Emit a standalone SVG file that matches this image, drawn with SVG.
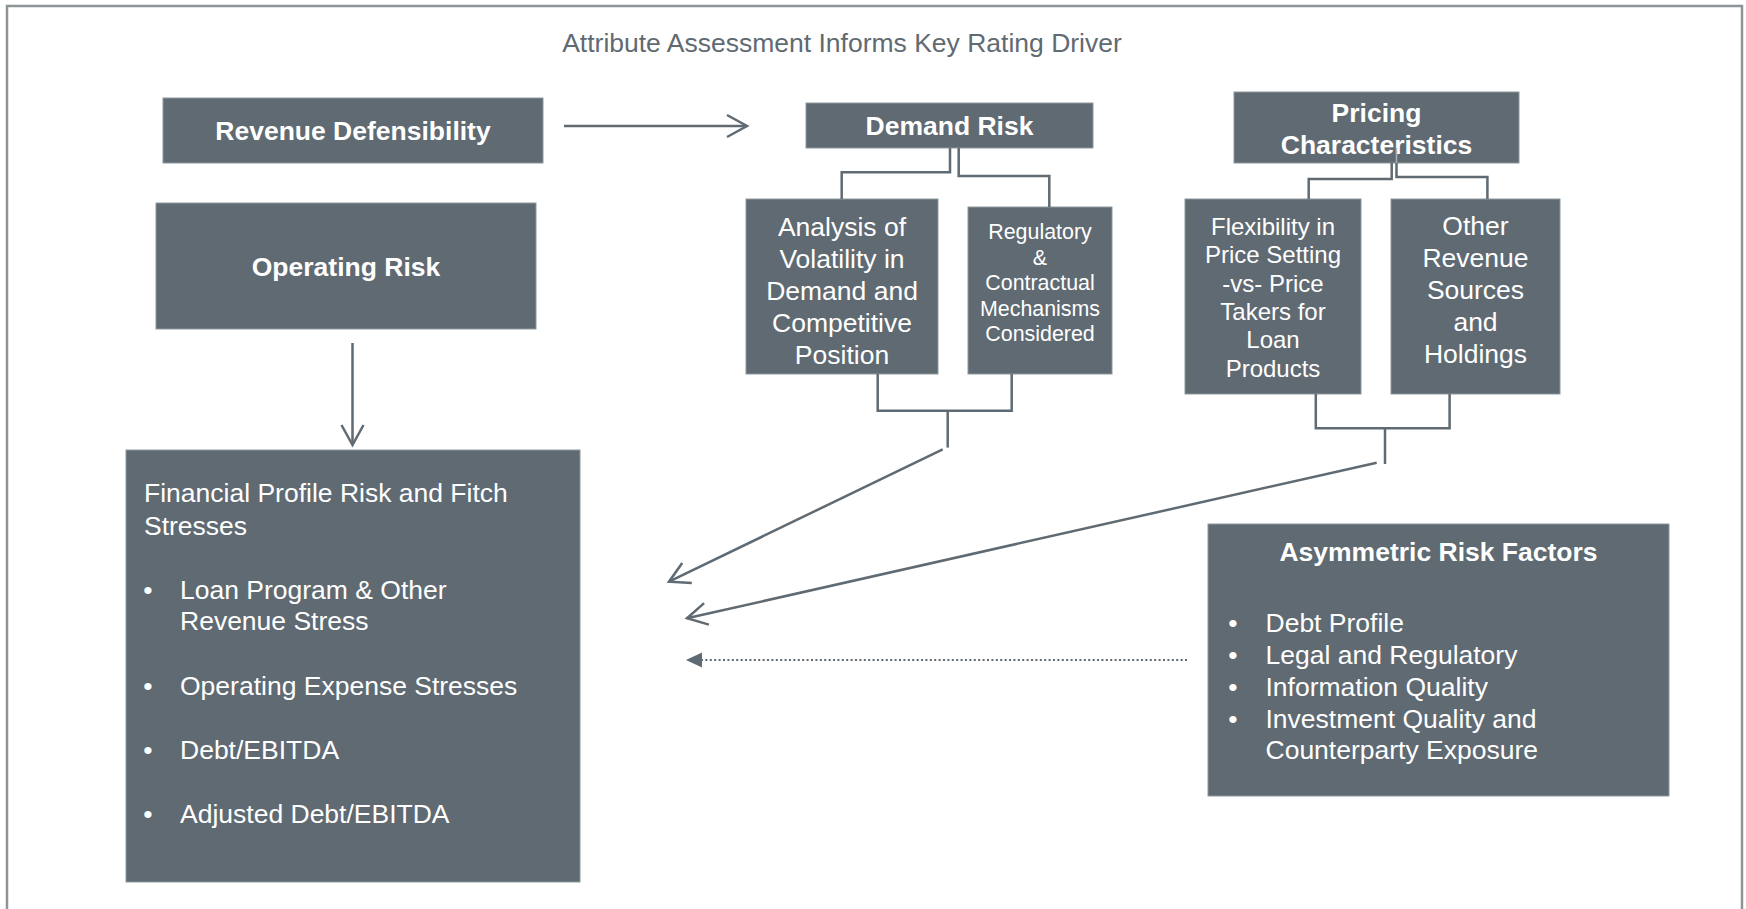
<svg xmlns="http://www.w3.org/2000/svg" width="1746" height="909" viewBox="0 0 1746 909">
  <style>
    .box { fill: #5f6a72; stroke: #8e979d; stroke-width: 1; }
    .lbl { font-family: "Liberation Sans", Arial, sans-serif; fill: #ffffff; }
    .b { font-weight: bold; font-size: 26.5px; }
    .r26 { font-size: 26.5px; }
    .r24 { font-size: 24px; }
    .r21 { font-size: 21.4px; }
    .mid { text-anchor: middle; }
    .wire { fill: none; stroke: #5f6a72; stroke-width: 2.5; }
    .dots { fill: none; stroke: #5f6a72; stroke-width: 2; stroke-dasharray: 2 2.4; }
  </style>
  <defs>
    <marker id="chev" markerUnits="userSpaceOnUse" markerWidth="26" markerHeight="26" viewBox="0 0 26 26" refX="23" refY="13" orient="auto" overflow="visible">
      <path d="M3,2 L23,13 L3,24" fill="none" stroke="#5f6a72" stroke-width="2.5"/>
    </marker>
    <marker id="tri" markerUnits="userSpaceOnUse" markerWidth="16" markerHeight="16" viewBox="0 0 16 16" refX="16" refY="8" orient="auto">
      <path d="M0,0.5 L16,8 L0,15.5 Z" fill="#5f6a72"/>
    </marker>
  </defs>

  <rect width="1746" height="909" fill="#ffffff"/>
  <!-- page frame: top, left and right edges -->
  <path d="M7,909 V6 H1742 V909" fill="none" stroke="#8e9396" stroke-width="2.5"/>

  <text x="842" y="52" class="lbl mid" style="fill:#5f6a72;font-size:26.5px">Attribute Assessment Informs Key Rating Driver</text>

  <g id="revenue-defensibility">
    <rect class="box" x="163" y="98" width="380" height="65"/>
    <text class="lbl b mid" x="353" y="140">Revenue Defensibility</text>
  </g>

  <g id="operating-risk">
    <rect class="box" x="156" y="203" width="380" height="126"/>
    <text class="lbl b mid" x="346" y="276">Operating Risk</text>
  </g>

  <g id="demand-risk">
    <rect class="box" x="806" y="103" width="287" height="45"/>
    <text class="lbl b mid" x="949.5" y="135">Demand Risk</text>
  </g>

  <g id="volatility">
    <rect class="box" x="746" y="199" width="192" height="175"/>
    <text class="lbl r26 mid" x="842" y="236">Analysis of</text>
    <text class="lbl r26 mid" x="842" y="268">Volatility in</text>
    <text class="lbl r26 mid" x="842" y="300">Demand and</text>
    <text class="lbl r26 mid" x="842" y="332">Competitive</text>
    <text class="lbl r26 mid" x="842" y="364">Position</text>
  </g>

  <g id="regulatory">
    <rect class="box" x="968" y="207" width="144" height="167"/>
    <text class="lbl r21 mid" x="1040" y="239">Regulatory</text>
    <text class="lbl r21 mid" x="1040" y="264.5">&amp;</text>
    <text class="lbl r21 mid" x="1040" y="290">Contractual</text>
    <text class="lbl r21 mid" x="1040" y="315.5">Mechanisms</text>
    <text class="lbl r21 mid" x="1040" y="341">Considered</text>
  </g>

  <g id="pricing">
    <rect class="box" x="1234" y="92" width="285" height="71"/>
    <text class="lbl b mid" x="1376.5" y="122">Pricing</text>
    <text class="lbl b mid" x="1376.5" y="154">Characteristics</text>
  </g>

  <g id="flexibility">
    <rect class="box" x="1185" y="199" width="176" height="195"/>
    <text class="lbl r24 mid" x="1273" y="235">Flexibility in</text>
    <text class="lbl r24 mid" x="1273" y="263.3">Price Setting</text>
    <text class="lbl r24 mid" x="1273" y="291.7">-vs- Price</text>
    <text class="lbl r24 mid" x="1273" y="320">Takers for</text>
    <text class="lbl r24 mid" x="1273" y="348.3">Loan</text>
    <text class="lbl r24 mid" x="1273" y="376.7">Products</text>
  </g>

  <g id="other-revenue">
    <rect class="box" x="1391" y="199" width="169" height="195"/>
    <text class="lbl r26 mid" x="1475.5" y="235">Other</text>
    <text class="lbl r26 mid" x="1475.5" y="267">Revenue</text>
    <text class="lbl r26 mid" x="1475.5" y="299">Sources</text>
    <text class="lbl r26 mid" x="1475.5" y="331">and</text>
    <text class="lbl r26 mid" x="1475.5" y="363">Holdings</text>
  </g>

  <g id="financial-profile">
    <rect class="box" x="126" y="450" width="454" height="432"/>
    <text class="lbl r26" x="144" y="502">Financial Profile Risk and Fitch</text>
    <text class="lbl r26" x="144" y="535">Stresses</text>
    <text class="lbl r26 mid" x="148" y="599">•</text>
    <text class="lbl r26" x="180" y="599">Loan Program &amp; Other</text>
    <text class="lbl r26" x="180" y="630">Revenue Stress</text>
    <text class="lbl r26 mid" x="148" y="695">•</text>
    <text class="lbl r26" x="180" y="695">Operating Expense Stresses</text>
    <text class="lbl r26 mid" x="148" y="759">•</text>
    <text class="lbl r26" x="180" y="759">Debt/EBITDA</text>
    <text class="lbl r26 mid" x="148" y="823">•</text>
    <text class="lbl r26" x="180" y="823">Adjusted Debt/EBITDA</text>
  </g>

  <g id="asymmetric-risk">
    <rect class="box" x="1208" y="524" width="461" height="272"/>
    <text class="lbl b mid" x="1438.5" y="561">Asymmetric Risk Factors</text>
    <text class="lbl r26 mid" x="1233" y="632">•</text>
    <text class="lbl r26" x="1265.5" y="632">Debt Profile</text>
    <text class="lbl r26 mid" x="1233" y="664">•</text>
    <text class="lbl r26" x="1265.5" y="664">Legal and Regulatory</text>
    <text class="lbl r26 mid" x="1233" y="696">•</text>
    <text class="lbl r26" x="1265.5" y="696">Information Quality</text>
    <text class="lbl r26 mid" x="1233" y="727.5">•</text>
    <text class="lbl r26" x="1265.5" y="727.5">Investment Quality and</text>
    <text class="lbl r26" x="1265.5" y="759">Counterparty Exposure</text>
  </g>

  <g id="connectors">
    <!-- revenue defensibility to demand risk -->
    <path class="wire" d="M564,126 H747" marker-end="url(#chev)"/>
    <!-- operating risk down to financial profile -->
    <path class="wire" d="M352.5,343 V445" marker-end="url(#chev)"/>
    <!-- demand risk split -->
    <path class="wire" d="M950,148 V172.3 H841.7 V199"/>
    <path class="wire" d="M958.7,148 V176 H1049.3 V207"/>
    <!-- demand risk merge -->
    <path class="wire" d="M877.7,374 V410.7 H1011.7 V374"/>
    <path class="wire" d="M947.7,410.7 V447.6"/>
    <path class="wire" d="M942.7,449.3 L669,581.7" marker-end="url(#chev)"/>
    <!-- pricing split -->
    <path d="M1396.5,148 V163" stroke="#aab2b7" stroke-width="1.5"/>
    <path class="wire" d="M1391.7,163 V179 H1308.7 V199"/>
    <path class="wire" d="M1396.5,163 V177 H1487.4 V199"/>
    <!-- pricing merge -->
    <path class="wire" d="M1315.8,394 V428.3 H1449.6 V394"/>
    <path class="wire" d="M1385,428.3 V464"/>
    <path class="wire" d="M1376.7,462.7 L687,618.3" marker-end="url(#chev)"/>
    <!-- asymmetric risk factors, dotted -->
    <path class="dots" d="M1187,660 H686" marker-end="url(#tri)"/>
  </g>
</svg>
